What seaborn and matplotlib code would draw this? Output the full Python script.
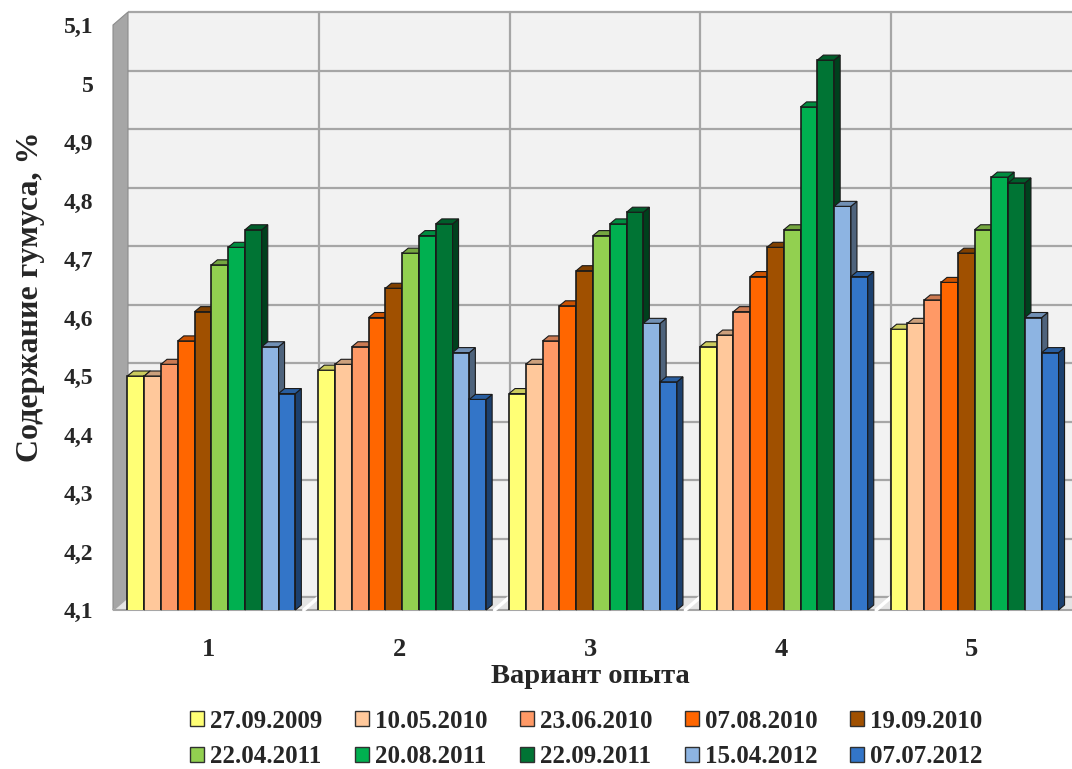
import numpy as np
import pandas as pd
import matplotlib
matplotlib.use("Agg")
import matplotlib.pyplot as plt
import matplotlib.transforms as mtransforms
from matplotlib.patches import Polygon, Rectangle
import seaborn as sns

# --- data -------------------------------------------------------------
variants = ["1", "2", "3", "4", "5"]
dates = ["27.09.2009", "10.05.2010", "23.06.2010", "07.08.2010", "19.09.2010",
         "22.04.2011", "20.08.2011", "22.09.2011", "15.04.2012", "07.07.2012"]
humus = {
    "27.09.2009": [4.50, 4.51, 4.47, 4.55, 4.58],
    "10.05.2010": [4.50, 4.52, 4.52, 4.57, 4.59],
    "23.06.2010": [4.52, 4.55, 4.56, 4.61, 4.63],
    "07.08.2010": [4.56, 4.60, 4.62, 4.67, 4.66],
    "19.09.2010": [4.61, 4.65, 4.68, 4.72, 4.71],
    "22.04.2011": [4.69, 4.71, 4.74, 4.75, 4.75],
    "20.08.2011": [4.72, 4.74, 4.76, 4.96, 4.84],
    "22.09.2011": [4.75, 4.76, 4.78, 5.04, 4.83],
    "15.04.2012": [4.55, 4.54, 4.59, 4.79, 4.60],
    "07.07.2012": [4.47, 4.46, 4.49, 4.67, 4.54],
}
colors = ["#FFFF75", "#FFC89B", "#FF9966", "#FF6600", "#A05000",
          "#92D050", "#00B050", "#007434", "#8DB4E2", "#3375C8"]
y_ticks = [4.1, 4.2, 4.3, 4.4, 4.5, 4.6, 4.7, 4.8, 4.9, 5.0, 5.1]
y_ticklabels = ["4,1", "4,2", "4,3", "4,4", "4,5", "4,6", "4,7", "4,8", "4,9", "5", "5,1"]

df = pd.DataFrame([(v, d, humus[d][i]) for d in dates for i, v in enumerate(variants)],
                  columns=["variant", "date", "value"])

# --- figure -----------------------------------------------------------
sns.set_theme(style="white")
plt.rcParams["font.family"] = ["Liberation Serif", "DejaVu Serif"]
plt.rcParams["font.weight"] = "bold"

W, H, DPI = 1072, 769, 100
fig = plt.figure(figsize=(W / DPI, H / DPI), dpi=DPI)
fig.patch.set_facecolor("white")
ax = fig.add_axes([113 / W, (H - 610) / H, 954 / W, 585 / H])
ax.set_xlim(-0.5, 4.5)
ax.set_ylim(4.1, 5.1)
ax.set_facecolor("none")
for s in ax.spines.values():
    s.set_visible(False)

# depth of the back wall and of each bar (pixels)
WALL_DX, WALL_DY = 15, 13
BAR_DX, BAR_DY = 6, 5
px = 1.0 / DPI
wall_off = ax.transData + mtransforms.ScaledTranslation(WALL_DX * px, WALL_DY * px, fig.dpi_scale_trans)
wall_off_ax = ax.transAxes + mtransforms.ScaledTranslation(WALL_DX * px, WALL_DY * px, fig.dpi_scale_trans)

grid_c = "#a6a6a6"
# back wall
ax.add_patch(Rectangle((0, 0), 1.2, 1, transform=wall_off_ax, facecolor="#f2f2f2",
                       edgecolor="none", zorder=0, clip_on=False))
for yv in y_ticks:
    ax.plot([-0.5, 4.6], [yv, yv], transform=wall_off, color=grid_c, lw=1.6,
            zorder=0.5, clip_on=False, solid_capstyle="butt")
for xv in [0.5, 1.5, 2.5, 3.5]:
    ax.plot([xv, xv], [4.1, 5.1], transform=wall_off, color=grid_c, lw=1.6,
            zorder=0.5, clip_on=False)

# pixel helpers for 3D faces
fig.canvas.draw()
def to_px(x, y):
    return ax.transData.transform((x, y))
def from_px(p):
    return ax.transData.inverted().transform(p)

# left wall
p0, p1 = to_px(-0.5, 4.1), to_px(-0.5, 5.1)
lw_pts = [p0, p1, p1 + [WALL_DX, WALL_DY], p0 + [WALL_DX, WALL_DY]]
ax.add_patch(Polygon([from_px(p) for p in lw_pts], closed=True, facecolor="#a6a6a6",
                     edgecolor="#8c8c8c", lw=0.8, zorder=0.6, clip_on=False))
# floor
f0, f1 = to_px(-0.5, 4.1), to_px(4.5, 4.1)
fl_pts = [f0, f1 + [WALL_DX, 0], f1 + [WALL_DX, WALL_DY], f0 + [WALL_DX, WALL_DY]]
ax.add_patch(Polygon([from_px(p) for p in fl_pts], closed=True, facecolor="#e4e4e4",
                     edgecolor="#a6a6a6", lw=1.5, zorder=0.7, clip_on=False))
for xv in [0.5, 1.5, 2.5, 3.5]:
    a = to_px(xv, 4.1)
    pts = [from_px(a), from_px(a + [WALL_DX, WALL_DY])]
    ax.plot([pts[0][0], pts[1][0]], [pts[0][1], pts[1][1]], color="white", lw=2.5,
            zorder=0.75, clip_on=False)

# --- bars -------------------------------------------------------------
sns.barplot(data=df, x="variant", y="value", hue="date", hue_order=dates,
            order=variants, palette=colors, width=0.88, dodge=True,
            edgecolor="#1a1a1a", linewidth=1.2, saturation=1, ax=ax, legend=False)

bars = sorted([p for p in ax.patches if isinstance(p, Rectangle) and p.get_height() > 1],
              key=lambda p: p.get_x())
shift = mtransforms.ScaledTranslation(3 * px, 0, fig.dpi_scale_trans)
for i, b in enumerate(bars):
    b.set_zorder(2 + 0.01 * i)
    b.set_transform(ax.transData + shift)
    fc = np.array(b.get_facecolor()[:3])
    x0, x1 = b.get_x(), b.get_x() + b.get_width()
    y1 = b.get_y() + b.get_height()
    tl, tr, br = to_px(x0, y1), to_px(x1, y1), to_px(x1, 4.1)
    top = [tl, tr, tr + [BAR_DX, BAR_DY], tl + [BAR_DX, BAR_DY]]
    side = [br, tr, tr + [BAR_DX, BAR_DY], br + [BAR_DX, BAR_DY]]
    ax.add_patch(Polygon([from_px(p) for p in side], closed=True, facecolor=fc * 0.55,
                         edgecolor="#1a1a1a", lw=0.8, zorder=2 + 0.01 * i + 0.005,
                         transform=ax.transData + shift, clip_on=False))
    ax.add_patch(Polygon([from_px(p) for p in top], closed=True, facecolor=fc * 0.8,
                         edgecolor="#1a1a1a", lw=0.8, zorder=2 + 0.01 * i + 0.005,
                         transform=ax.transData + shift, clip_on=False))

# --- axes text --------------------------------------------------------
ax.set_yticks(y_ticks)
ax.set_yticklabels(y_ticklabels, fontsize=17, fontweight="bold")
ax.set_xticks(range(len(variants)))
ax.set_xticklabels(variants, fontsize=19, fontweight="bold")
ax.tick_params(axis="both", length=0)
ax.tick_params(axis="y", pad=14)
ax.tick_params(axis="x", pad=20)
ax.set_xlabel("Вариант опыта", fontsize=20.5, fontweight="bold", labelpad=2)
ax.set_ylabel("Содержание гумуса, %", fontsize=23, fontweight="bold", va="center")
ax.yaxis.set_label_coords(-0.087, 0.535)
ax.grid(False)

# --- legend (row-major, 2 x 5) ---------------------------------------
handles = [Rectangle((0, 0), 1, 1, facecolor=c, edgecolor="#303030", lw=1) for c in colors]
order = [0, 5, 1, 6, 2, 7, 3, 8, 4, 9]
fig.legend([handles[k] for k in order], [dates[k] for k in order], ncol=5,
           loc="upper center", bbox_to_anchor=(0.547, 0.100), frameon=False,
           prop={"size": 18, "weight": "bold"}, handlelength=0.55, handleheight=0.55,
           handletextpad=0.25, columnspacing=1.3, labelspacing=0.5,
           borderaxespad=0.3)

fig.savefig("out.png", dpi=DPI)
